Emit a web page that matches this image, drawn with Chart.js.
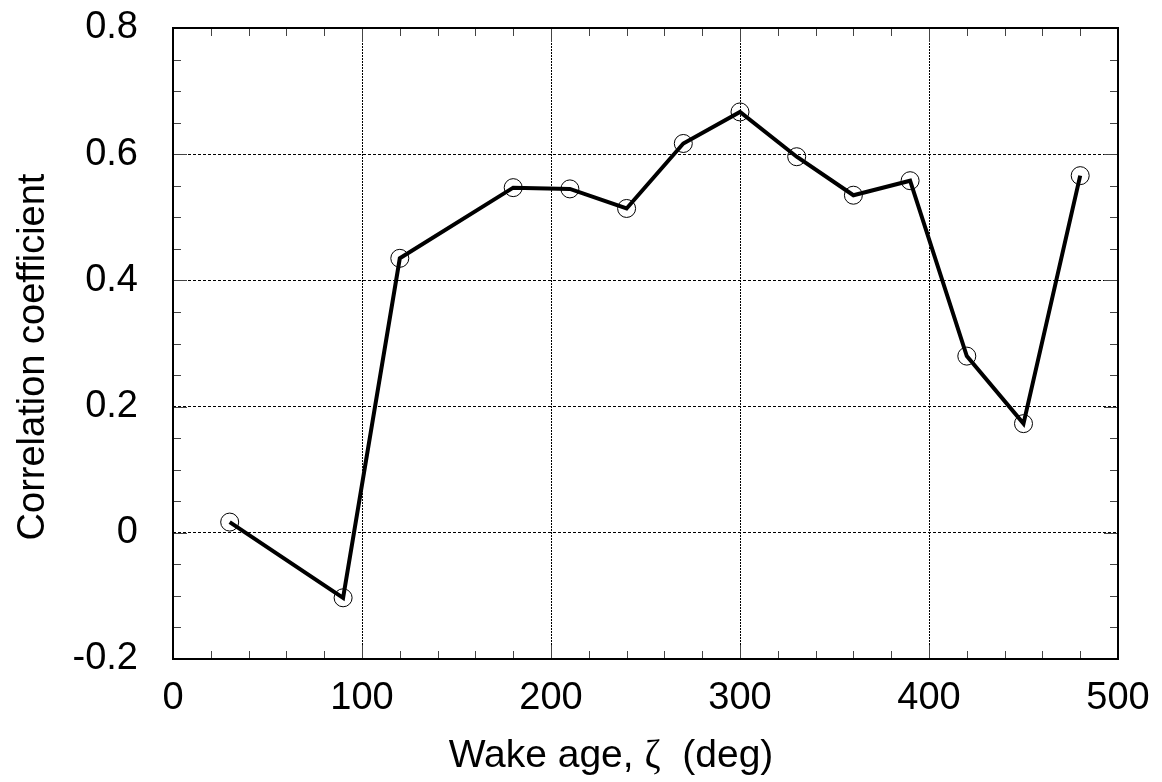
<!DOCTYPE html>
<html><head><meta charset="utf-8">
<script src="https://cdn.jsdelivr.net/npm/chart.js@4.4.0/dist/chart.umd.min.js"></script>
<style>html,body{margin:0;padding:0;background:#fff}#wrap{width:1162px;height:782px}</style>
</head><body><div id="wrap"><canvas id="c" width="1162" height="782"></canvas></div>
<script>
const wakeAge = [30, 90, 120, 180, 210, 240, 270, 300, 330, 360, 390, 420, 450, 480];
const correlation = [0.017, -0.103, 0.435, 0.547, 0.545, 0.514, 0.617, 0.667, 0.596, 0.535, 0.558, 0.280, 0.173, 0.566];
const xTicks = [0, 100, 200, 300, 400, 500];
const yTicks = [-0.2, 0, 0.2, 0.4, 0.6, 0.8];
const xMinorStep = 20;
const yMinorStep = 0.05;
const xTitleParts = ['Wake age, ', 'ζ', '  (deg)'];
const yTitle = 'Correlation coefficient';

const SANS = '"Liberation Sans", Arial, sans-serif';
const SERIF = '"Liberation Serif", "Times New Roman", serif';
const TICK_SIZE = 38;
const XTITLE_SIZE = 39;
const YTITLE_SIZE = 38;

const points = wakeAge.map((x, i) => ({x: x, y: correlation[i]}));

const framePlugin = {
  id: 'frameAndTicks',
  afterDraw(chart) {
    const ctx = chart.ctx;
    const a = chart.chartArea;
    const xs = chart.scales.x, ys = chart.scales.y;
    ctx.save();
    ctx.strokeStyle = '#444';
    ctx.lineWidth = 1;
    ctx.beginPath();
    for (let k = 0; ; k++) {
      const v = xs.min + k * xMinorStep;
      if (v > xs.max + 1e-9) break;
      const px = Math.round(xs.getPixelForValue(v)) + 0.5;
      const len = (k % 5 === 0) ? 14 : 8;
      ctx.moveTo(px, a.bottom); ctx.lineTo(px, a.bottom - len);
      ctx.moveTo(px, a.top); ctx.lineTo(px, a.top + len);
    }
    for (let k = 0; ; k++) {
      const v = ys.min + k * yMinorStep;
      if (v > ys.max + 1e-9) break;
      const py = Math.round(ys.getPixelForValue(v)) + 0.5;
      const len = (k % 4 === 0) ? 14 : 8;
      ctx.moveTo(a.left, py); ctx.lineTo(a.left + len, py);
      ctx.moveTo(a.right, py); ctx.lineTo(a.right - len, py);
    }
    ctx.stroke();
    ctx.strokeStyle = '#000';
    ctx.lineWidth = 2;
    ctx.strokeRect(a.left, a.top, a.right - a.left, a.bottom - a.top);

    ctx.fillStyle = '#000';
    ctx.textBaseline = 'alphabetic';
    const fonts = [SANS, SERIF, SANS];
    let total = 0;
    const widths = xTitleParts.map((t, i) => {
      ctx.font = XTITLE_SIZE + 'px ' + fonts[i];
      const w = ctx.measureText(t).width; total += w; return w;
    });
    let x0 = 611 - total / 2;
    xTitleParts.forEach((t, i) => {
      ctx.font = XTITLE_SIZE + 'px ' + fonts[i];
      ctx.textAlign = 'left';
      ctx.fillText(t, x0, 767);
      x0 += widths[i];
    });
    ctx.translate(44, 357);
    ctx.rotate(-Math.PI / 2);
    ctx.font = YTITLE_SIZE + 'px ' + SANS;
    ctx.textAlign = 'center';
    ctx.fillText(yTitle, 0, 0);
    ctx.restore();
  }
};

new Chart(document.getElementById('c'), {
  type: 'line',
  data: {
    datasets: [
      {
        label: 'line',
        data: points,
        borderColor: '#000',
        borderWidth: 4,
        borderJoinStyle: 'miter',
        pointRadius: 0,
        tension: 0,
        fill: false,
        order: 0
      },
      {
        label: 'markers',
        data: points,
        showLine: false,
        pointRadius: 9,
        pointBorderWidth: 1,
        pointBorderColor: '#000',
        pointBackgroundColor: 'rgba(0,0,0,0)',
        order: 1
      }
    ]
  },
  options: {
    responsive: false,
    animation: false,
    devicePixelRatio: 1,
    layout: {padding: {left: 0, top: 28, right: 44, bottom: 0}},
    plugins: {legend: {display: false}, tooltip: {enabled: false}},
    scales: {
      x: {
        type: 'linear',
        min: 0, max: 500,
        afterBuildTicks: s => { s.ticks = xTicks.map(v => ({value: v})); },
        afterFit: s => { s.height = 123; s.paddingLeft = 0; s.paddingRight = 0; },
        ticks: {color: '#000', font: {family: SANS, size: TICK_SIZE}, padding: 17, maxRotation: 0,
                callback: v => String(v)},
        grid: {drawTicks: false, color: '#000', lineWidth: 1},
        border: {display: false, dash: [2, 1]}
      },
      y: {
        type: 'linear',
        min: -0.2, max: 0.8,
        afterBuildTicks: s => { s.ticks = yTicks.map(v => ({value: v})); },
        afterFit: s => { s.width = 173; s.paddingTop = 0; s.paddingBottom = 0; },
        ticks: {color: '#000', font: {family: SANS, size: TICK_SIZE}, padding: 35,
                callback: v => String(Number(v.toFixed(1)))},
        grid: {drawTicks: false, color: '#000', lineWidth: 1},
        border: {display: false, dash: [3, 2]}
      }
    }
  },
  plugins: [framePlugin]
});
</script></body></html>
